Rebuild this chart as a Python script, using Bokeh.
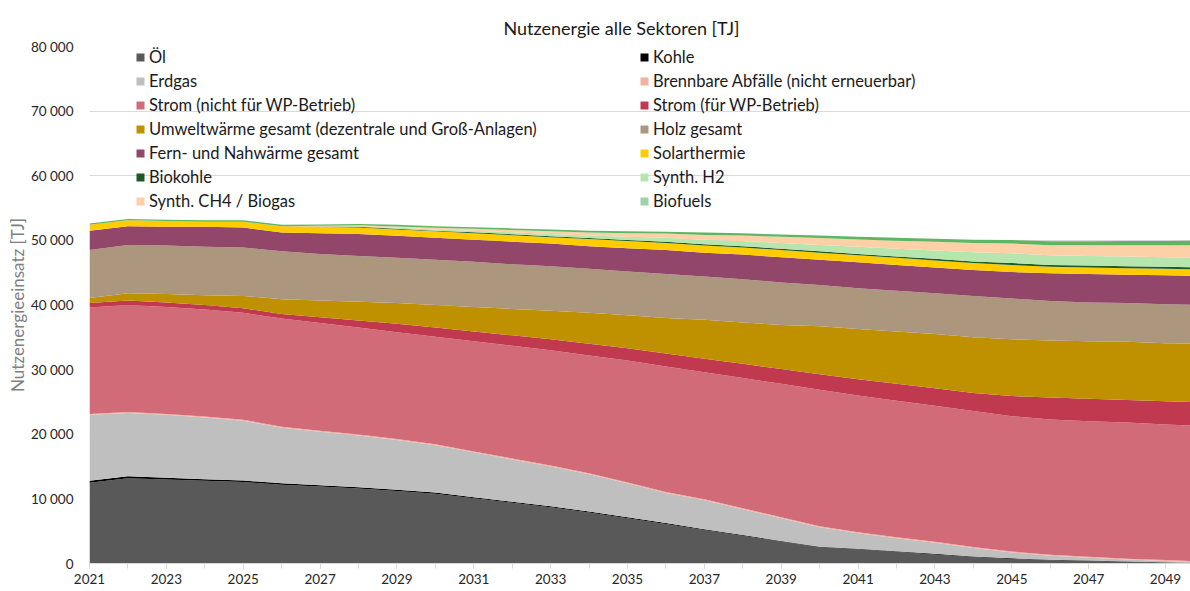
from bokeh.plotting import figure
from bokeh.models import (Range1d, FixedTicker, CustomJSTickFormatter, Legend,
                          LegendItem, ColumnDataSource)
from bokeh.embed import file_html
from bokeh.resources import INLINE

# ---------------- data (TJ) ----------------
years = list(range(2021, 2051))

oel = [12500, 13200, 13000, 12800, 12600, 12200, 11900, 11600, 11200, 10800,
       10100, 9400, 8700, 7900, 7000, 6100, 5200, 4300, 3400, 2500,
       2200, 1800, 1400, 1000, 700, 500, 400, 250, 150, 50]
kohle = [300, 300, 250, 250, 250, 200, 200, 200, 200, 200,
         150, 150, 150, 150, 150, 150, 100, 100, 100, 100,
         100, 100, 100, 100, 100, 80, 80, 60, 50, 30]
erdgas = [10200, 9800, 9750, 9550, 9250, 8600, 8300, 8000, 7700, 7300,
          6950, 6550, 6150, 5750, 5250, 4650, 4500, 4000, 3500, 3000,
          2400, 2000, 1700, 1300, 900, 620, 420, 290, 200, 70]
abfaelle = [150] * 30
strom = [16450, 16550, 16550, 16550, 16550, 16750, 16650, 16550, 16550, 16650,
         17050, 17450, 17850, 18250, 18850, 19450, 19650, 20150, 20650, 21150,
         21150, 21150, 21050, 21050, 20950, 20950, 20950, 21050, 20950, 21000]
strom_wp = [700, 700, 700, 700, 700, 700, 900, 1100, 1300, 1400,
            1500, 1600, 1700, 1800, 1900, 2000, 2100, 2200, 2300, 2400,
            2500, 2600, 2700, 2800, 3100, 3400, 3500, 3500, 3600, 3600]
umwelt = [800, 1100, 1300, 1500, 1900, 2300, 2600, 2900, 3200, 3500,
          3800, 4100, 4400, 4800, 5100, 5500, 6000, 6400, 6800, 7400,
          7800, 8100, 8400, 8600, 8800, 8800, 8900, 9000, 9000, 9100]
holz = [7400, 7500, 7500, 7500, 7500, 7400, 7200, 7100, 7000, 7000,
        7000, 6900, 6900, 6800, 6800, 6800, 6700, 6700, 6600, 6400,
        6300, 6300, 6300, 6400, 6300, 6100, 6000, 6000, 6000, 6000]
fernwaerme = [3000, 2900, 2900, 3100, 3100, 2900, 3200, 3400, 3400, 3400,
              3400, 3500, 3500, 3500, 3600, 3700, 3700, 3800, 3900, 3900,
              4000, 4000, 4000, 4000, 4100, 4300, 4400, 4400, 4500, 4500]
solar = [900, 900, 900, 800, 900, 1000, 1000, 1000, 1000, 1000,
         1000, 1000, 1000, 1100, 1100, 1100, 1100, 1100, 1100, 1100,
         1100, 1100, 1100, 1100, 1100, 1000, 1000, 1000, 1000, 1000]
biokohle = [0, 0, 0, 0, 0, 0, 50, 100, 100, 100,
            150, 150, 150, 150, 150, 200, 200, 200, 200, 200,
            200, 200, 250, 250, 300, 300, 300, 300, 300, 300]
synth_h2 = [0, 0, 0, 0, 0, 0, 0, 100, 150, 200,
            250, 300, 350, 400, 500, 600, 700, 800, 900, 1000,
            1100, 1200, 1300, 1400, 1500, 1500, 1500, 1500, 1500, 1500]
synth_ch4 = [0, 0, 0, 0, 0, 0, 100, 150, 200, 250,
             300, 350, 400, 450, 550, 650, 750, 850, 950, 1050,
             1150, 1250, 1350, 1450, 1500, 1550, 1650, 1750, 1850, 1950]
biofuels = [200, 200, 200, 200, 200, 200, 200, 200, 250, 250,
            250, 250, 300, 300, 300, 300, 350, 350, 350, 400,
            400, 450, 450, 500, 550, 600, 600, 650, 650, 700]

labels = ["Öl", "Kohle", "Erdgas", "Brennbare Abfälle (nicht erneuerbar)",
          "Strom (nicht für WP-Betrieb)", "Strom (für WP-Betrieb)",
          "Umweltwärme gesamt (dezentrale und Groß-Anlagen)", "Holz gesamt",
          "Fern- und Nahwärme gesamt", "Solarthermie", "Biokohle", "Synth. H2",
          "Synth. CH4 / Biogas", "Biofuels"]
series = [oel, kohle, erdgas, abfaelle, strom, strom_wp, umwelt, holz,
          fernwaerme, solar, biokohle, synth_h2, synth_ch4, biofuels]
colors = ["#595959", "#000000", "#bfbfbf", "#f4b0a0", "#d16b78", "#c0394f",
          "#bf9000", "#ac967d", "#924669", "#ffcc00", "#1d5a28", "#b6e6ae",
          "#fed0a7", "#5fb662"]
legend_colors = colors[:-1] + ["#9dd0ab"]

y_ticks = [0, 10000, 20000, 30000, 40000, 50000, 60000, 70000, 80000]
x_ticks = list(range(2021, 2050, 2))

FONT = "Lato"

keys = [f"s{i}" for i in range(len(series))]
data = {"year": years}
for k, v in zip(keys, series):
    data[k] = v
source = ColumnDataSource(data)

p = figure(width=1190, height=591, output_backend="svg", toolbar_location=None,
           x_range=Range1d(2021, 2049.65), y_range=Range1d(0, 80000),
           min_border_left=89, min_border_right=0, min_border_top=46,
           min_border_bottom=28)
p.outline_line_color = None
p.background_fill_color = "white"
p.border_fill_color = "white"

renderers = p.varea_stack(stackers=keys, x="year", fill_color=colors, source=source)

# title
p.title.text = "Nutzenergie alle Sektoren [TJ]"
p.title.align = "left"
p.title.offset = 414
p.title.standoff = 16
p.title.text_font = FONT
p.title.text_font_size = "18px"
p.title.text_font_style = "normal"
p.title.text_color = "#1a1a1a"

# axes
p.xaxis.ticker = FixedTicker(ticks=x_ticks, minor_ticks=years)
p.xaxis.formatter = CustomJSTickFormatter(code="return tick.toFixed(0);")
p.xaxis.axis_line_color = "#d9d9d9"
p.xaxis.major_tick_line_color = "#d9d9d9"
p.xaxis.minor_tick_line_color = "#d9d9d9"
p.xaxis.major_tick_in = 0
p.xaxis.major_tick_out = 5
p.xaxis.minor_tick_in = 0
p.xaxis.minor_tick_out = 5
p.xaxis.major_label_standoff = 5
p.xaxis.major_label_text_font = FONT
p.xaxis.major_label_text_font_size = "13.5px"
p.xaxis.major_label_text_color = "#262626"

p.yaxis.ticker = FixedTicker(ticks=y_ticks)
p.yaxis.formatter = CustomJSTickFormatter(
    code="return tick.toFixed(0).replace(/\\B(?=(\\d{3})+(?!\\d))/g, ' ');")
p.yaxis.axis_line_color = None
p.yaxis.major_tick_line_color = None
p.yaxis.minor_tick_line_color = None
p.yaxis.major_tick_out = 0
p.yaxis.major_tick_in = 0
p.yaxis.major_label_standoff = 16
p.yaxis.major_label_text_font = FONT
p.yaxis.major_label_text_font_size = "13.5px"
p.yaxis.major_label_text_color = "#262626"
p.yaxis.axis_label = "Nutzenergieeinsatz [TJ]"
p.yaxis.axis_label_text_font = FONT
p.yaxis.axis_label_text_font_size = "17px"
p.yaxis.axis_label_text_font_style = "normal"
p.yaxis.axis_label_text_color = "#7f7f7f"
p.yaxis.axis_label_standoff = 0

p.xgrid.visible = False
p.ygrid.grid_line_color = "#d9d9d9"
p.ygrid.grid_line_width = 1

# legend (two columns, as separate legends)
# swatch-only renderer for Biofuels (placed outside the visible x range)
dummy = p.varea(x=[1990, 1991], y1=[0, 0], y2=[1, 1], fill_color=legend_colors[-1])
leg_renderers = renderers[:-1] + [dummy]

left_idx = [0, 2, 4, 6, 8, 10, 12]
right_idx = [1, 3, 5, 7, 9, 11, 13]


def make_legend(idx, xloc):
    items = [LegendItem(label=labels[i], renderers=[leg_renderers[i]]) for i in idx]
    return Legend(items=items, location=(xloc, 352), orientation="vertical",
                  glyph_width=10, glyph_height=10, label_height=20, spacing=4,
                  padding=0, margin=0, label_standoff=4,
                  label_text_font=FONT, label_text_font_size="16.5px",
                  label_text_color="#1a1a1a",
                  background_fill_alpha=0, border_line_alpha=0)


p.add_layout(make_legend(left_idx, 46))
p.add_layout(make_legend(right_idx, 550))

open("out.html", "w").write(file_html(p, INLINE))
